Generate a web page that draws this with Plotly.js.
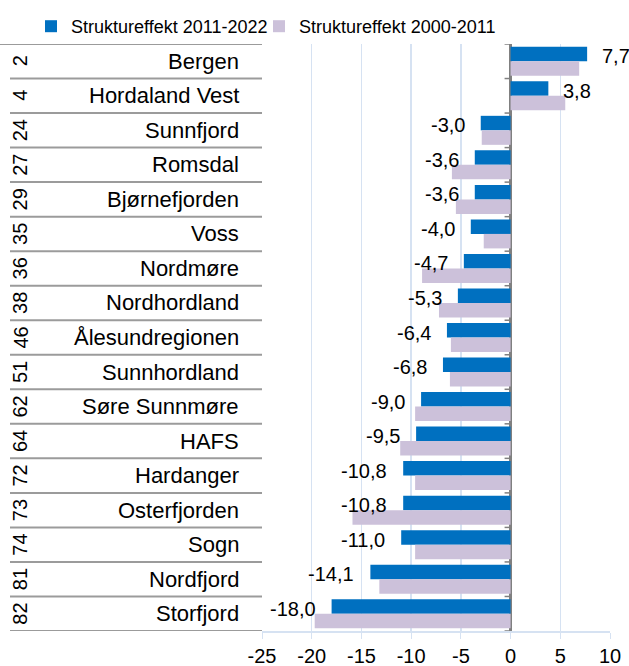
<!DOCTYPE html>
<html>
<head>
<meta charset="utf-8">
<script src="https://cdn.plot.ly/plotly-3.0.1.min.js"></script>
<style>html,body{margin:0;padding:0;background:#fff;}#chart{width:629px;height:666px;}</style>
</head>
<body>
<div id="chart"></div>
<script>
const regions = ["Bergen","Hordaland Vest","Sunnfjord","Romsdal","Bjørnefjorden","Voss","Nordmøre","Nordhordland","Ålesundregionen","Sunnhordland","Søre Sunnmøre","HAFS","Hardanger","Osterfjorden","Sogn","Nordfjord","Storfjord"];
const ranks = ["2","4","24","27","29","35","36","38","46","51","62","64","72","73","74","81","82"];
const effect2011_2022 = [7.7,3.8,-3.0,-3.6,-3.6,-4.0,-4.7,-5.3,-6.4,-6.8,-9.0,-9.5,-10.8,-10.8,-11.0,-14.1,-18.0];
const effect2000_2011 = [6.9,5.5,-2.9,-5.9,-5.5,-2.7,-8.9,-7.2,-6.0,-6.1,-9.6,-11.1,-9.6,-15.9,-9.6,-13.2,-19.7];
const xTickVals = [-25,-20,-15,-10,-5,0,5,10];
const xTickText = ["-25","-20","-15","-10","-5","0","5","10"];
const seriesNames = ["Struktureffekt 2011-2022","Struktureffekt 2000-2011"];

const W = 629, H = 666;
const M = {l:262, r:19, t:44, b:35, autoexpand:false};
const plotW = W - M.l - M.r;
const plotH = H - M.t - M.b;
const pxToPaperX = px => (px - M.l) / plotW;
const pxToPaperY = py => (H - M.b - py) / plotH;
const FONT = "Liberation Sans, Arial, Helvetica, sans-serif";
const gridBlue = "#D6E2F2";
const sepGray = "#9B9B9B";

const fmt = v => v.toFixed(1).replace('.', ',');

const traces = [
  {type:'bar', orientation:'h', name:seriesNames[0], y:regions, x:effect2011_2022,
   marker:{color:'#0070C0'}, hoverinfo:'x+y', legend:'legend'},
  {type:'bar', orientation:'h', name:seriesNames[1], y:regions, x:effect2000_2011,
   marker:{color:'#CCC1DA'}, hoverinfo:'x+y', legend:'legend2'}
];

const annotations = [];
const shapes = [];
regions.forEach((r,i) => {
  annotations.push({xref:'paper', yref:'y', x:pxToPaperX(241), y:r, xanchor:'right', yanchor:'middle',
    text:r, showarrow:false, font:{family:FONT, size:22, color:'#000'}});
  annotations.push({xref:'paper', yref:'y', x:pxToPaperX(20), y:r, xanchor:'center', yanchor:'middle',
    text:ranks[i], textangle:-90, showarrow:false, font:{family:FONT, size:20, color:'#000'}});
  const v = effect2011_2022[i];
  annotations.push({xref:'x', yref:'y', x:v, y:r, xanchor: v<0 ? 'right':'left', yanchor:'middle',
    xshift: v<0 ? -14 : 13, yshift:5, text:fmt(v), showarrow:false,
    font:{family:FONT, size:20, color:'#000'}});
});
for (let k = 0; k <= regions.length; k++) {
  shapes.push({type:'line', xref:'paper', yref:'y', x0:pxToPaperX(k===0?0:10), x1:0, y0:k-0.5, y1:k-0.5,
    line:{color:sepGray, width:2}});
  shapes.push({type:'line', xref:'x', yref:'y', xsizemode:'pixel', xanchor:0, x0:-6, x1:0, y0:k-0.5, y1:k-0.5,
    line:{color:'#808080', width:1.5}});
}

const legendBase = {orientation:'h', xanchor:'left', yanchor:'top', y:pxToPaperY(8),
  font:{family:FONT, size:18, color:'#000'}, itemwidth:30, bgcolor:'rgba(0,0,0,0)'};

const layout = {
  width:W, height:H, margin:M,
  paper_bgcolor:'#fff', plot_bgcolor:'#fff',
  font:{family:FONT, size:20, color:'#000'},
  barmode:'group', bargap:0.16, bargroupgap:0,
  showlegend:true,
  legend:Object.assign({}, legendBase, {x:pxToPaperX(31)}),
  legend2:Object.assign({}, legendBase, {x:pxToPaperX(259)}),
  xaxis:{range:[-25,10], tickvals:xTickVals, ticktext:xTickText, showgrid:true, gridcolor:gridBlue, gridwidth:1.5,
    zeroline:true, zerolinecolor:'#808080', zerolinewidth:2.5,
    showline:true, linecolor:gridBlue, linewidth:1.5, ticks:'outside', ticklen:6, tickcolor:gridBlue,
    tickfont:{family:FONT, size:20, color:'#000'}, fixedrange:true},
  yaxis:{type:'category', range:[regions.length-0.5, -0.5], showticklabels:false, showgrid:false,
    zeroline:false, showline:false, ticks:'', fixedrange:true},
  annotations:annotations,
  shapes:shapes
};

Plotly.newPlot('chart', traces, layout, {displayModeBar:false, staticPlot:true});
</script>
</body>
</html>
